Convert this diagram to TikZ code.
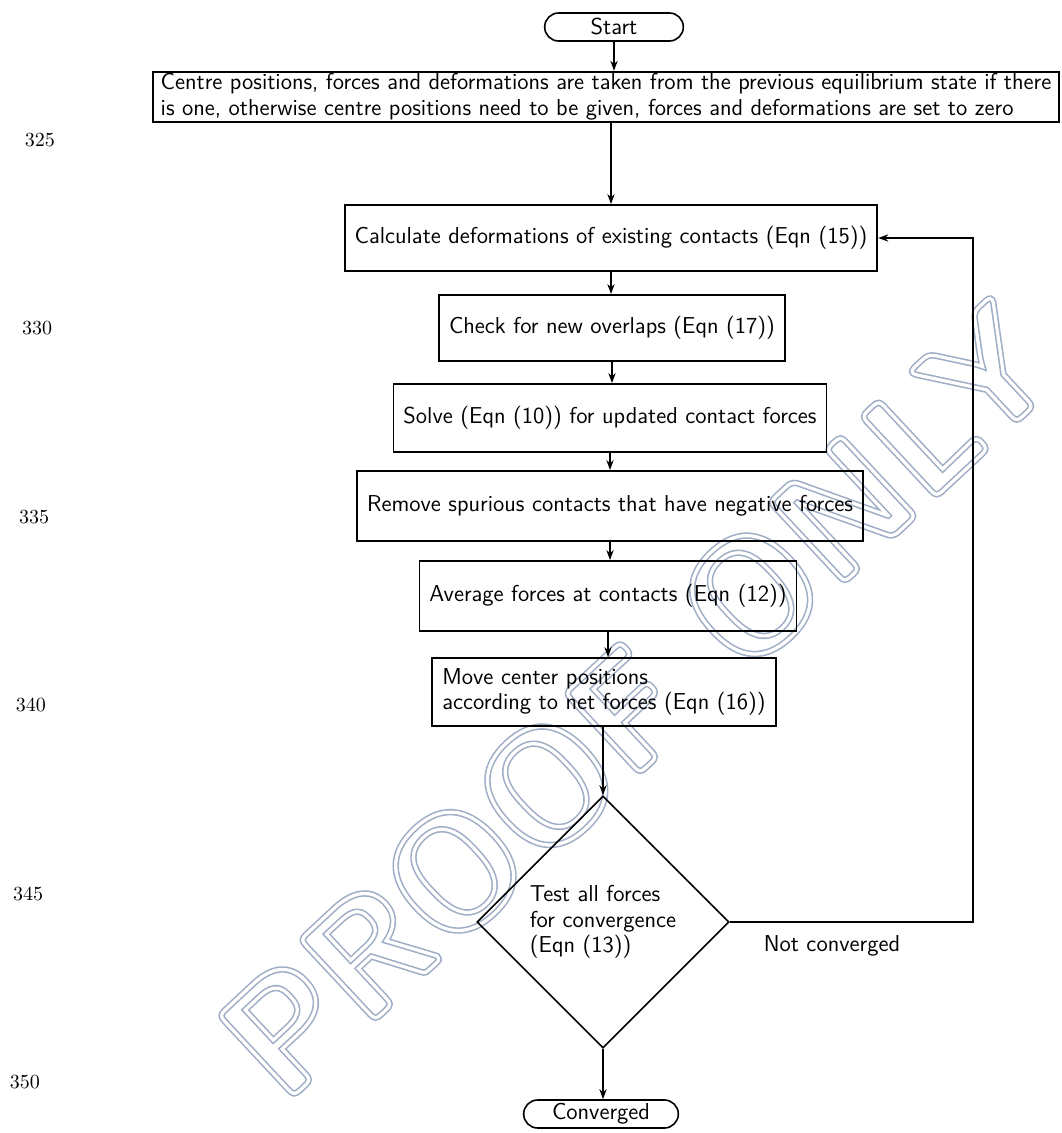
\documentclass[tikz,border=0pt]{standalone}
\usetikzlibrary{positioning, arrows.meta, shapes.geometric, shapes.misc, calc}
\usepackage{xcolor}
\definecolor{marca}{RGB}{160,174,198}
\newcommand{\contorno}[2]{\special{pdf:literal direct 1 Tr #1 w}#2\special{pdf:literal direct 0 Tr}}
\begin{document}
\begin{tikzpicture}[x=0.5pt, y=-0.5pt, >={Stealth[length=5pt, width=3.6pt]},
    every node/.style={font=\sffamily\fontsize{11.5}{12.8}\selectfont},
    caixa/.style={draw, line width=0.9pt, inner xsep=5pt, minimum height=33pt},
    terminal/.style={draw, line width=0.8pt, rounded rectangle, minimum height=14pt, inner ysep=1pt},
    marcadagua/.style={rotate=43, font=\sffamily\bfseries\fontsize{79}{79}\selectfont},
    seta/.style={->, line width=0.9pt}]
    \useasboundingbox (0,0) rectangle (1061,1133);
    % Marca d'agua (contorno duplo)
    \node[marcadagua, text=marca] (marca) at (638,700) {\contorno{3.2}{PROOF ONLY}};
    \node[marcadagua, text=white] (marcab) at (638,700) {\contorno{1.6}{PROOF ONLY}};
    % Numeros de linha
    \foreach \n [count=\i from 0] in {325,330,335,340,345,350}
      \node[font=\rmfamily\fontsize{10}{10}\selectfont] (ln\n) at (40-3*\i,140+188.4*\i) {\n};
    % Caixas
    \node[terminal, minimum width=76pt] (start) at (614,27) {Start};
    \node[caixa, minimum height=25pt, align=left, inner xsep=4pt, inner ysep=1pt] (prev) at (606,97)
      {Centre positions, forces and deformations are taken from the previous equilibrium state if there\\
       is one, otherwise centre positions need to be given, forces and deformations are set to zero};
    \node[caixa] (calc) at (611,238) {Calculate deformations of existing contacts (Eqn (15))};
    \node[caixa] (check) at (612,328) {Check for new overlaps (Eqn (17))};
    \node[caixa, minimum height=34pt] (solve) at (610,418) {Solve (Eqn (10)) for updated contact forces};
    \node[caixa, minimum height=35pt] (remove) at (610,506) {Remove spurious contacts that have negative forces};
    \node[caixa, minimum height=35pt] (average) at (608,596) {Average forces at contacts (Eqn (12))};
    \node[caixa, minimum height=34pt, align=left] (move) at (604,692)
      {Move center positions\\according to net forces (Eqn (16))};
    \node[draw, diamond, line width=0.8pt, minimum width=126pt, minimum height=126pt, inner sep=0pt, align=left] (test) at (603,922)
      {Test all forces\\for convergence\\(Eqn (13))};
    \node[terminal, minimum width=84pt] (conv) at (601,1114) {Converged};
    % Ligacoes
    \draw[seta] (start.south) -- (start.south |- prev.north);
    \draw[seta] (prev.south -| calc.north) -- (calc.north);
    \draw[seta] (calc.south) -- (calc.south |- check.north);
    \draw[seta] (check.south) -- (check.south |- solve.north);
    \draw[seta] (solve.south) -- (solve.south |- remove.north);
    \draw[seta] (remove.south) -- (remove.south |- average.north);
    \draw[seta] (average.south) -- (average.south |- move.north);
    \draw[seta] (move.south -| test.north) -- (test.north);
    \draw[seta] (test.south) -- (test.south |- conv.north);
    % Retorno
    \coordinate (volta) at (973,922);
    \draw[seta] (test.east) -- node[below=3pt, pos=0.42] (notconv) {Not converged} (volta) |- (calc.east);
\end{tikzpicture}
\end{document}
